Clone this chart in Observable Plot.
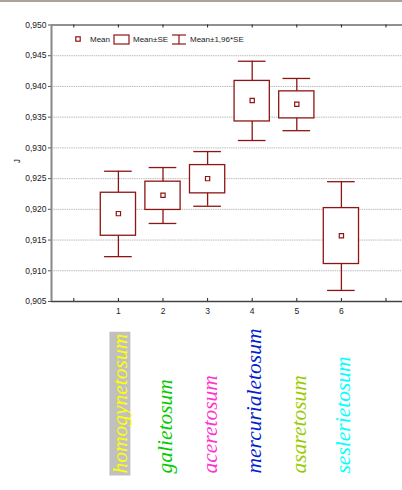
<!DOCTYPE html>
<html>
<head>
<meta charset="utf-8">
<script src="https://cdn.jsdelivr.net/npm/d3@7"></script>
<script src="https://cdn.jsdelivr.net/npm/@observablehq/plot@0.6"></script>
<style>
  html, body { margin: 0; padding: 0; background: #fff; }
  #wrap { position: relative; width: 402px; height: 488px; border-top: 2px solid #a8a396; overflow: hidden; }
  #legend { position: absolute; left: 70px; top: 30px; }
  svg { display: block; }
</style>
</head>
<body>
<div id="wrap">
  <div id="chart"></div>
  <svg id="legend" width="200" height="16"></svg>
</div>
<script>
// ---- data ----
const categories = [1, 2, 3, 4, 5, 6];
const names = ["homogynetosum", "galietosum", "aceretosum", "mercurialetosum", "asaretosum", "seslerietosum"];
const nameColors = ["#ffff00", "#00cc00", "#ff33cc", "#0022cc", "#99cc00", "#00ffff"];
const nameBackgrounds = ["#c0c0c0", null, null, null, null, null];
const means  = [0.9193, 0.9223, 0.9250, 0.9377, 0.9371, 0.9157];
const seLow  = [0.9157, 0.9199, 0.9226, 0.9343, 0.9348, 0.9111];
const seHigh = [0.9227, 0.9245, 0.9272, 0.9409, 0.9392, 0.9202];
const ciLow  = [0.9123, 0.9177, 0.9205, 0.9312, 0.9328, 0.9068];
const ciHigh = [0.9262, 0.9268, 0.9294, 0.9441, 0.9413, 0.9245];
const yTicks = [0.905, 0.910, 0.915, 0.920, 0.925, 0.930, 0.935, 0.940, 0.945, 0.950];
const xTicks = [0, 1, 2, 3, 4, 5, 6, 7];
const yLabel = "J";
const legendLabels = ["Mean", "Mean\u00B1SE", "Mean\u00B11,96*SE"];

const data = categories.map((c, i) => ({
  cat: c, name: names[i], color: nameColors[i], bg: nameBackgrounds[i],
  mean: means[i], seLo: seLow[i], seHi: seHigh[i], ciLo: ciLow[i], ciHi: ciHigh[i]
}));

const red = "#8e1515";
const fmt = d => d.toFixed(3).replace(".", ",");

const chart = Plot.plot({
  width: 402,
  height: 488,
  marginLeft: 51,
  marginRight: 0,
  marginTop: 22.5,
  marginBottom: 189,
  x: {domain: [-0.5, 7.37]},
  y: {domain: [0.905, 0.950]},
  color: {type: "identity"},
  style: {fontFamily: "Arial, 'Liberation Sans', sans-serif", fontSize: "8.5px", color: "#222", background: "transparent", overflow: "visible"},
  marks: [
    Plot.gridY(yTicks.slice(1, -1), {stroke: "#bdbdbd", strokeOpacity: 1, strokeWidth: 1, strokeDasharray: "1.5,0.75"}),
    Plot.axisY(yTicks, {tickFormat: fmt, tickSize: 3, tickPadding: 2, label: null, stroke: "#555"}),
    Plot.axisX(categories, {anchor: "bottom", tickSize: 0, tickPadding: 6, label: null}),
    Plot.ruleY([0.950], {stroke: "#222", strokeWidth: 1.2}),
    Plot.ruleY([0.905], {stroke: "#444", strokeWidth: 1.5}),
    Plot.ruleX([-0.5], {stroke: "#888", strokeWidth: 2}),
    Plot.ruleX(xTicks, {y1: 0.905, y2: 0.905, insetTop: -3, stroke: "#222"}),
    Plot.ruleX(xTicks, {y1: 0.950, y2: 0.950, insetBottom: -3, stroke: "#222"}),
    Plot.text([yLabel], {frameAnchor: "left", rotate: -90, dx: -34, fontSize: 8.5, fill: "#222"}),
    // whiskers
    Plot.ruleX(data, {x: "cat", y1: "ciLo", y2: "ciHi", stroke: red, strokeWidth: 1.3}),
    Plot.ruleY(data, {y: "ciHi", x1: d => d.cat - 0.31, x2: d => d.cat + 0.31, stroke: red, strokeWidth: 1.3}),
    Plot.ruleY(data, {y: "ciLo", x1: d => d.cat - 0.31, x2: d => d.cat + 0.31, stroke: red, strokeWidth: 1.3}),
    // SE boxes
    Plot.rect(data, {x1: d => d.cat - 0.395, x2: d => d.cat + 0.395, y1: "seLo", y2: "seHi", fill: "white", stroke: red, strokeWidth: 1.3}),
    // means
    Plot.dot(data, {x: "cat", y: "mean", symbol: "square", r: 2.4, fill: "white", stroke: red, strokeWidth: 1.2}),
    // category names
    Plot.text(data, {
      x: "cat", text: "name", fill: "color",
      frameAnchor: "bottom", rotate: -90, textAnchor: "start", lineAnchor: "bottom",
      dx: 9, dy: 172, fontSize: 21.5, fontFamily: "'Liberation Serif', 'Times New Roman', serif", fontStyle: "italic"
    })
  ]
});
document.getElementById("chart").appendChild(chart);

// gray highlight behind labels that have a background
(function () {
  const svg = chart.tagName.toLowerCase() === "svg" ? chart : chart.querySelector("svg");
  const sr = svg.getBoundingClientRect();
  const texts = Array.from(svg.querySelectorAll("text"));
  data.forEach(d => {
    if (!d.bg) return;
    const t = texts.find(el => el.textContent === d.name);
    if (!t) return;
    const r = t.getBoundingClientRect();
    const rect = document.createElementNS("http://www.w3.org/2000/svg", "rect");
    rect.setAttribute("x", r.left - sr.left + 1);
    rect.setAttribute("y", r.top - sr.top - 2);
    rect.setAttribute("width", Math.max(0, r.width - 3));
    rect.setAttribute("height", r.height + 4);
    rect.setAttribute("fill", d.bg);
    const g = t.parentNode;
    g.parentNode.insertBefore(rect, g);
  });
})();

// legend
(function () {
  const L = d3.select("#legend");
  const ff = "Arial, 'Liberation Sans', sans-serif";
  const addText = (x, s) => L.append("text").attr("x", x).attr("y", 10).text(s)
    .attr("font-family", ff).attr("font-size", "8px").attr("fill", "#222");
  L.append("rect").attr("x", 5.8).attr("y", 4.8).attr("width", 4.4).attr("height", 4.4)
    .attr("fill", "white").attr("stroke", red).attr("stroke-width", 1.2);
  addText(20, legendLabels[0]);
  L.append("rect").attr("x", 44).attr("y", 3).attr("width", 15).attr("height", 9)
    .attr("fill", "white").attr("stroke", red).attr("stroke-width", 1.2);
  addText(63, legendLabels[1]);
  const w = L.append("g").attr("stroke", red).attr("stroke-width", 1.2);
  w.append("line").attr("x1", 102).attr("x2", 116).attr("y1", 3).attr("y2", 3);
  w.append("line").attr("x1", 109).attr("x2", 109).attr("y1", 3).attr("y2", 12);
  w.append("line").attr("x1", 102).attr("x2", 116).attr("y1", 12).attr("y2", 12);
  addText(120, legendLabels[2]);
})();
</script>
</body>
</html>
